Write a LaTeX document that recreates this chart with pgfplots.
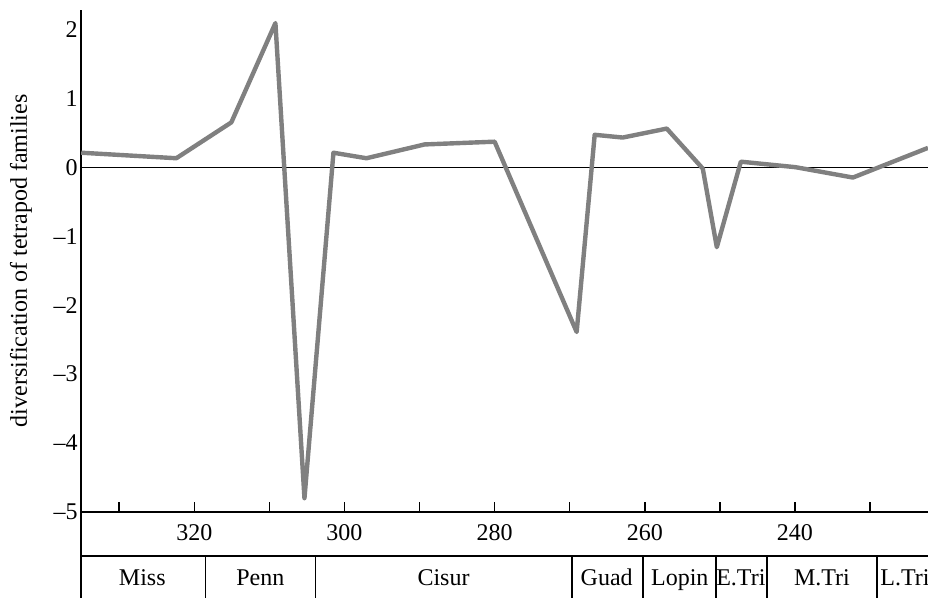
\documentclass[border=0pt]{standalone}
\usepackage{pgfplots}
\pgfplotsset{compat=1.18}
\usepackage{fontspec}
\setmainfont{Liberation Serif}

\begin{document}
\begin{tikzpicture}
\useasboundingbox (-40.5pt,-43pt) rectangle (423.5pt,256pt);
\begin{axis}[
    at={(0,0)}, anchor=south west,
    width=423.5pt, height=251pt, scale only axis,
    x dir=reverse,
    xmin=222.27, xmax=335.1,
    ymin=-5, ymax=2.28,
    axis lines=left,
    axis line style={line width=0.9pt, -},
    xtick={320,300,280,260,240},
    xticklabels={320,300,280,260,240},
    minor xtick={330,310,290,270,250,230},
    tick align=inside,
    major tick length=5pt, minor tick length=5pt,
    tick style={black, line width=0.8pt},
    xticklabel style={yshift=-2.5pt},
    ytick={-5,-4,...,2},
    yticklabels={–5,–4,–3,–2,–1,0,1,2},
    ytick style={draw=none},
    yticklabel style={inner xsep=1.5pt},
    ylabel={diversification of tetrapod families},
    ylabel style={at={(axis description cs:-0.0708,0.5)}, anchor=center},
    font=\fontsize{12}{14}\selectfont,
    clip=false,
]
% zero line
\addplot[black, line width=0.7pt] coordinates {(222.27,0) (335.1,0)};
% diversification
\addplot[black!50, line width=2.2pt, line join=round] coordinates {
    (335.07,0.21) (322.4,0.13) (315.07,0.65) (309.2,2.09) (305.33,-4.80)
    (301.47,0.21) (297.07,0.13) (289.33,0.33) (280.0,0.37) (269.07,-2.39)
    (266.67,0.47) (262.93,0.43) (257.07,0.56) (252.27,-0.02) (250.4,-1.16)
    (247.2,0.08) (239.9,0.0) (232.27,-0.15) (222.27,0.28)
};
\end{axis}
\begin{axis}[
    at={(0,0)}, anchor=north west,
    width=423.5pt, height=43pt, scale only axis,
    x dir=reverse,
    xmin=222.27, xmax=335.1,
    ymin=0, ymax=1,
    axis x line=none,
    axis y line=left,
    axis line style={line width=0.9pt, -},
    ticks=none,
    font=\fontsize{12}{14}\selectfont,
    clip=false,
]
\addplot[black, line width=0.8pt] coordinates {(222.27,0.488) (335.1,0.488)};
\addplot[black, line width=0.8pt, ycomb] coordinates {
    (318.53,0.488) (303.87,0.488) (269.73,0.488) (260.27,0.488)
    (250.53,0.488) (243.73,0.488) (229.07,0.488)
};
\node[anchor=base] at (axis cs:326.93,0.14) {Miss};
\node[anchor=base] at (axis cs:311.2,0.14) {Penn};
\node[anchor=base] at (axis cs:286.8,0.14) {Cisur};
\node[anchor=base] at (axis cs:265.07,0.14) {Guad};
\node[anchor=base] at (axis cs:255.33,0.14) {Lopin};
\node[anchor=base] at (axis cs:247.2,0.14) {E.Tri};
\node[anchor=base] at (axis cs:236.4,0.14) {M.Tri};
\node[anchor=base] at (axis cs:225.33,0.14) {L.Tri};
\end{axis}
\end{tikzpicture}
\end{document}
